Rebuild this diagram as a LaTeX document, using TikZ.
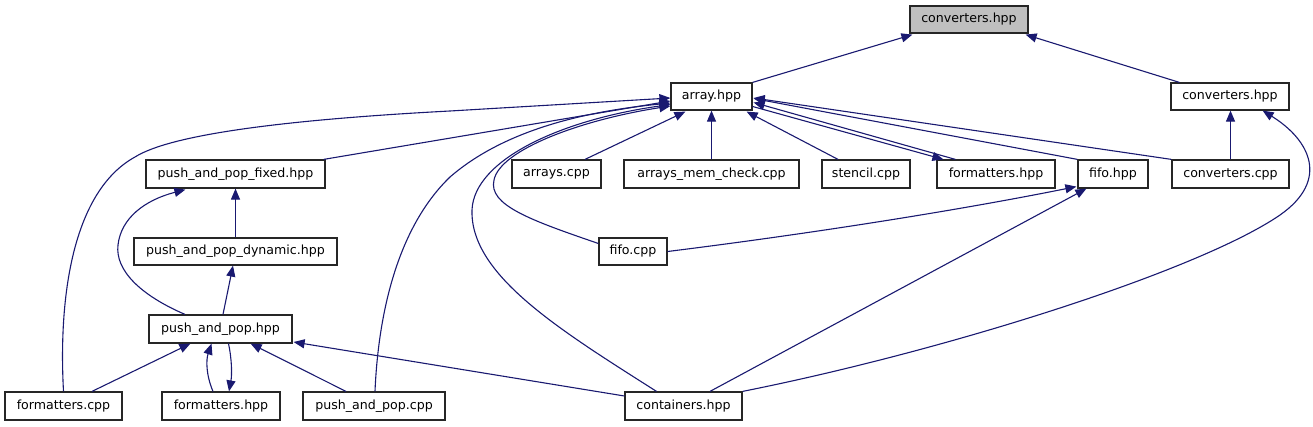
\documentclass[tikz,border=0pt]{standalone}
\usepackage{fontspec}
\setmainfont{DejaVu Sans}
\usetikzlibrary{arrows.meta,calc}
\definecolor{edgec}{RGB}{25,25,112}
\definecolor{topfill}{RGB}{191,191,191}
\begin{document}
\begin{tikzpicture}[x=1pt,y=-1pt,
  box/.style={draw=black!85, line width=1.2pt, fill=white, inner sep=0pt,
    minimum height=27pt, font=\fontsize{12.6}{14}\selectfont, text=black},
  edge/.style={draw=edgec, line width=1.1pt, -{Triangle[length=11pt,width=9pt]}}]
\useasboundingbox (0,0) rectangle (1313,427);

% nodes
\node[box, fill=topfill, minimum width=118pt] (conv) at (969,19.5) {converters.hpp};
\node[box, minimum width=81pt] (arr) at (711.5,96.5) {array.hpp};
\node[box, minimum width=118pt] (conv2) at (1230,96.5) {converters.hpp};
\node[box, minimum width=179pt, minimum height=28pt] (ppf) at (235.5,174) {push\_and\_pop\_fixed.hpp};
\node[box, minimum width=89pt, minimum height=28pt] (arrays) at (556.5,174) {arrays.cpp};
\node[box, minimum width=175pt, minimum height=28pt] (amc) at (711.5,174) {arrays\_mem\_check.cpp};
\node[box, minimum width=88pt, minimum height=28pt] (stencil) at (866,174) {stencil.cpp};
\node[box, minimum width=118pt, minimum height=28pt] (fmh1) at (996,174) {formatters.hpp};
\node[box, minimum width=70pt, minimum height=28pt] (fifoh) at (1113,174) {fifo.hpp};
\node[box, minimum width=117pt, minimum height=28pt] (convcpp) at (1230.5,174) {converters.cpp};
\node[box, minimum width=203pt] (ppd) at (235.5,251.5) {push\_and\_pop\_dynamic.hpp};
\node[box, minimum width=68pt] (fifocpp) at (633,251.5) {fifo.cpp};
\node[box, minimum width=143pt, minimum height=28pt] (pph) at (220.5,329) {push\_and\_pop.hpp};
\node[box, minimum width=117pt, minimum height=28pt] (fmc) at (63.5,406) {formatters.cpp};
\node[box, minimum width=118pt, minimum height=28pt] (fmh2) at (221,406) {formatters.hpp};
\node[box, minimum width=142pt, minimum height=28pt] (ppc) at (374,406) {push\_and\_pop.cpp};
\node[box, minimum width=117pt, minimum height=28pt] (cont) at (683.5,406) {containers.hpp};

% edges to converters.hpp (top)
\draw[edge] (arr.north east) -- ($(conv.south west)+(3,1)$);
\draw[edge] ($(conv2.north west)+(9,0)$) -- ($(conv.south east)+(-3,1)$);

% edges to array.hpp
\draw[edge] (fmc.north) .. controls (58,290) and (75,190) .. (135,157)
  .. controls (170,135) and (280,120) .. (450,111) -- ($(arr.west)+(0,1.5)$);
\draw[edge] ($(ppf.north east)+(-2,0)$) -- ($(arr.west)+(0,4.5)$);
\draw[edge] ($(ppc.north)+(1,0)$) .. controls (378,320) and (395,230) .. (450,177)
  .. controls (510,125) and (600,110) .. ($(arr.west)+(0,6.5)$);
\draw[edge] ($(cont.north)+(-27,0)$) .. controls (560,330) and (470,275) .. (472,210)
  .. controls (474,160) and (560,120) .. ($(arr.west)+(0,8)$);
\draw[edge] ($(fifocpp.west)+(0,-8)$) .. controls (530,220) and (488,205) .. (494,180)
  .. controls (500,150) and (580,120) .. ($(arr.west)+(0,9.5)$);
\draw[edge] ($(arrays.north)+(28.5,0)$) -- ($(arr.south west)+(15,1)$);
\draw[edge] (amc.north) -- (arr.south);
\draw[edge] ($(stencil.north)+(-28,0)$) -- ($(arr.south east)+(-6,1)$);
\draw[edge] ($(fmh1.north west)+(19,0)$) -- ($(arr.east)+(1,6)$);
\draw[edge] ($(arr.east)+(0,10)$) -- ($(fmh1.north west)+(7,0)$);
\draw[edge] (fifoh.north west) -- ($(arr.east)+(1,2)$);
\draw[edge] (convcpp.north west) -- ($(arr.east)+(1,1.5)$);

% edges to converters.hpp (second)
\draw[edge] (convcpp.north) -- (convcpp.north |- conv2.south);
\draw[edge] (cont.north east) .. controls (950,350) and (1200,270) .. (1280,215)
  .. controls (1330,180) and (1310,140) .. ($(conv2.south east)+(-27,0)$);

% edges to fifo.hpp
\draw[edge] ($(cont.north)+(26.5,0)$) -- ($(fifoh.south west)+(9,0)$);
\draw[edge] (fifocpp.east) .. controls (800,235) and (950,212) .. ($(fifoh.south west)+(-1,-2)$);

% push_and_pop family
\draw[edge] (ppd.north) -- (ppf.south);
\draw[edge] ($(pph.north)+(-35.5,0)$) .. controls (140,295) and (115,270) .. (118,245)
  .. controls (121,218) and (145,200) .. ($(ppf.south west)+(40,1)$);
\draw[edge] ($(pph.north)+(2.5,0)$) -- ($(ppd.south)+(-2.5,0)$);
\draw[edge] ($(fmc.north)+(28.5,0)$) -- ($(pph.south west)+(42,0)$);
\draw[edge] ($(fmh2.north)+(-8,0)$) .. controls (206,375) and (206,360) .. ($(pph.south)+(-9,0)$);
\draw[edge] ($(pph.south)+(8,0)$) .. controls (232,360) and (232,375) .. ($(fmh2.north)+(8,0)$);
\draw[edge] ($(ppc.north)+(-28,0)$) -- ($(pph.south east)+(-42,0)$);
\draw[edge] ($(cont.west)+(0,-10)$) -- ($(pph.east)+(1,13)$);
\end{tikzpicture}
\end{document}
